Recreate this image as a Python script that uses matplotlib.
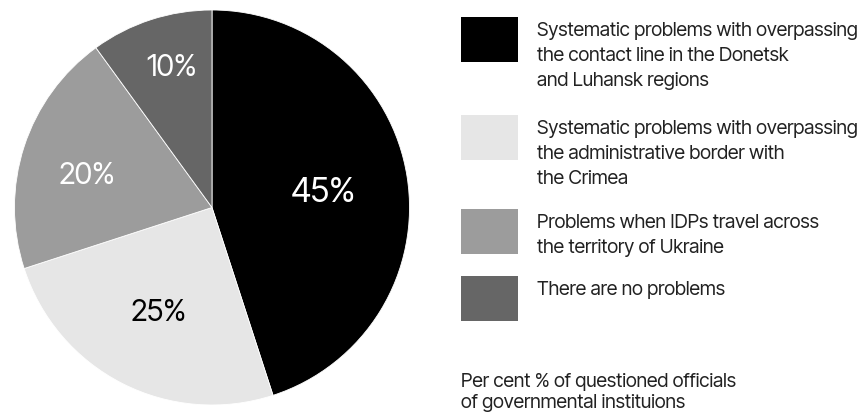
import matplotlib
matplotlib.use("Agg")
import matplotlib.pyplot as plt
from matplotlib.patches import Rectangle
import numpy as np

plt.rcParams['font.family'] = ['Inter Tight', 'DejaVu Sans']

categories = [
    "Systematic problems with overpassing\nthe contact line in the Donetsk\nand Luhansk regions",
    "Systematic problems with overpassing\nthe administrative border with\nthe Crimea",
    "Problems when IDPs travel across\nthe territory of Ukraine",
    "There are no problems",
]
values = [45, 25, 20, 10]
value_labels = ["45%", "25%", "20%", "10%"]
note = "Per cent % of questioned officials\nof governmental instituions"

colors = ["#000000", "#e6e6e6", "#9c9c9c", "#666666"]
label_colors = ["white", "black", "white", "white"]
label_radii = [0.57, 0.58, 0.658, 0.754]
label_angle_shift = [0.5, -0.6, 2.1, -2.4]
label_sizes = [24.5, 21.5, 21.5, 21.5]

W, H = 866, 414
fig = plt.figure(figsize=(W / 100, H / 100), dpi=100)

cx, cy, r = 212, 208.5, 197.5
ax = fig.add_axes([(cx - r) / W, (H - cy - r) / H, 2 * r / W, 2 * r / H])
wedges, texts = ax.pie(values, colors=colors, startangle=90, counterclock=False,
                       labels=value_labels, labeldistance=0.6, radius=1,
                       wedgeprops=dict(edgecolor="white", linewidth=0.6))
for w, t, rad, da, col, fs in zip(wedges, texts, label_radii, label_angle_shift,
                                  label_colors, label_sizes):
    ang = np.deg2rad((w.theta1 + w.theta2) / 2 + da)
    t.set_position((rad * np.cos(ang), rad * np.sin(ang)))
    t.set_color(col)
    t.set_fontsize(fs)
    t.set_ha("center")
    t.set_va("center_baseline")
ax.set_xlim(-1, 1)
ax.set_ylim(-1, 1)
ax.set_aspect("equal")
ax.axis("off")

# legend
box_x, box_w, box_h = 461, 57, 45
box_tops = [18, 116, 210, 277]
text_x = 537
fs_leg = 14
for i, (cat, col) in enumerate(zip(categories, colors)):
    top = box_tops[i]
    fig.patches.append(Rectangle((box_x / W, (H - top - box_h) / H), box_w / W, box_h / H,
                                 transform=fig.transFigure, facecolor=col, edgecolor="none"))
    fig.text(text_x / W, (H - top - 4) / H, cat, ha="left", va="top",
             fontsize=fs_leg, color="#222222", linespacing=1.50)

fig.text(461 / W, (H - 373) / H, note, ha="left", va="top",
         fontsize=fs_leg, color="#222222", linespacing=1.25)

fig.savefig("out.png", dpi=100)
